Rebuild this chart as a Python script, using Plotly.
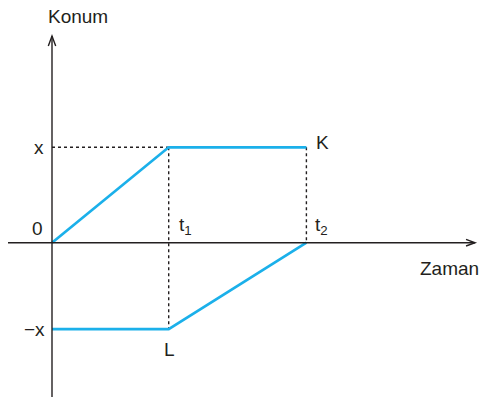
import plotly.graph_objects as go

# ---- data ----
times = [0.0, 1.0, 2.18]          # 0, t1, t2
k_pos = [0.0, 1.0, 1.0]           # K: 0 -> x -> x
l_pos = [-0.905, -0.905, 0.0]     # L: -x -> -x -> 0
x_level = 1.0
negx_level = -0.905
tick_text = {"x": "x", "zero": "0", "negx": "\u2212x", "t1": "t<sub>1</sub>", "t2": "t<sub>2</sub>"}

W, H = 479, 397
xr = [-0.4456, 3.659]
yr = [-1.617, 2.544]
sx = W / (xr[1] - xr[0])
sy = H / (yr[1] - yr[0])

BLUE = "#1bb0ea"
INK = "#231f20"
FONT = "Liberation Sans, Arial, sans-serif"
FS = 19

fig = go.Figure()

# dotted guide lines
dot = dict(color=INK, width=1.4, dash="dot")
fig.add_trace(go.Scatter(x=[times[0], times[1]], y=[x_level, x_level], mode="lines", line=dot, hoverinfo="skip"))
fig.add_trace(go.Scatter(x=[times[1], times[1]], y=[x_level, negx_level], mode="lines", line=dot, hoverinfo="skip"))
fig.add_trace(go.Scatter(x=[times[2], times[2]], y=[x_level, 0], mode="lines", line=dot, hoverinfo="skip"))

# axes
ax_top = 2.167
ax_right = 3.625
axis_line = dict(color=INK, width=1.4)
fig.add_shape(type="line", x0=0, x1=0, y0=yr[0], y1=ax_top, line=axis_line)
fig.add_shape(type="line", x0=-0.377, x1=ax_right, y0=0, y1=0, line=axis_line)
# chevrons
fig.add_shape(type="path",
              path=f"M {-3.7/sx} {ax_top-10/sy} L 0 {ax_top} L {3.7/sx} {ax_top-10/sy}",
              line=axis_line)
fig.add_shape(type="path",
              path=f"M {ax_right-9/sx} {3.3/sy} L {ax_right} 0 L {ax_right-9/sx} {-3.3/sy}",
              line=axis_line)

# motion lines
fig.add_trace(go.Scatter(x=times, y=k_pos, mode="lines", line=dict(color=BLUE, width=2.7), hoverinfo="skip"))
fig.add_trace(go.Scatter(x=times, y=l_pos, mode="lines", line=dict(color=BLUE, width=2.7), hoverinfo="skip"))

def label(text, x, y, dx, dy):
    fig.add_annotation(text=text, x=x, y=y, xref="x", yref="y", showarrow=False,
                       xshift=dx, yshift=dy, xanchor="center", yanchor="middle",
                       font=dict(family=FONT, size=FS, color=INK))

label("Konum", 0, ax_top, 26, 19)
label("Zaman", ax_right, 0, -26, -26)
label(tick_text["x"], 0, x_level, -13, 0)
label(tick_text["zero"], 0, 0, -15, 14)
label(tick_text["negx"], 0, negx_level, -18, 0)
label(tick_text["t1"], times[1], 0, 17, 17)
label(tick_text["t2"], times[2], 0, 15, 17)
label("K", times[2], k_pos[2], 16, 5)
label("L", times[1], l_pos[1], 1, -20)

fig.update_layout(
    width=W, height=H, margin=dict(l=0, r=0, t=0, b=0),
    paper_bgcolor="white", plot_bgcolor="white", showlegend=False,
    xaxis=dict(range=xr, visible=False, fixedrange=True),
    yaxis=dict(range=yr, visible=False, fixedrange=True),
)
fig.write_html("out.html", config={"displayModeBar": False},
               post_script="document.body.style.margin='0';document.body.style.overflow='hidden';")
